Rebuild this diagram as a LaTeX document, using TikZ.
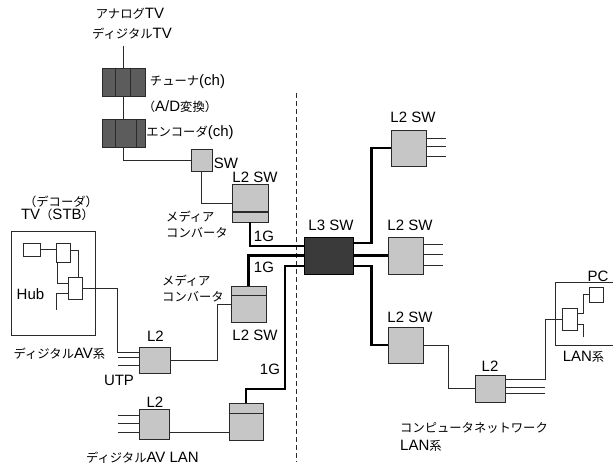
\documentclass[tikz,border=0pt]{standalone}
\usepackage{fontspec}
\setmainfont{Liberation Sans}
\newfontfamily\jpfont[Scale=0.82]{Noto Sans CJK JP}
\newcommand{\jp}[1]{{\jpfont #1}}
\usetikzlibrary{calc,positioning}
\definecolor{linegray}{HTML}{2A2A2A}
\definecolor{boxlight}{HTML}{C6C6C6}
\definecolor{boxdark}{HTML}{5C5C5C}
\definecolor{boxcore}{HTML}{3A3A3A}

\begin{document}
\begin{tikzpicture}[x=1pt, y=-1pt,
  font=\fontsize{15}{17}\selectfont,
  txt/.style={inner sep=0pt, text=black},
  lightbox/.style={rectangle, draw=linegray, fill=boxlight, line width=0.8pt, inner sep=0pt},
  darkbox/.style={rectangle, draw=linegray, fill=boxdark, line width=0.8pt, inner sep=0pt},
  corebox/.style={rectangle, draw=black, fill=boxcore, line width=0.8pt, inner sep=0pt},
  plainbox/.style={rectangle, draw=linegray, fill=white, line width=0.8pt, inner sep=0pt},
  wire/.style={draw=linegray, line width=0.9pt},
  trunk/.style={draw=black, line width=2.4pt},
]
\useasboundingbox (0,0) rectangle (613,468);

% broadcast side
\node[txt] (analog) at (130,14) {\jp{アナログ}TV};
\node[txt] (digital) at (132,34) {\jp{ディジタル}TV};
\node[darkbox, minimum width=43pt, minimum height=28pt] (tuner) at (123.5,82) {};
\node[darkbox, minimum width=43pt, minimum height=28pt] (enc) at (123.5,133) {};
\node[txt] (tunerlbl) at (187.5,82) {\jp{チューナ}(ch)};
\node[txt] (adlbl) at (180,107) {\jp{（}A/D\jp{変換）}};
\node[txt] (enclbl) at (190,133) {\jp{エンコーダ}(ch)};
\draw[wire] ([xshift=-8.5pt]tuner.north) -- ([xshift=-8.5pt]tuner.south);
\draw[wire] ([xshift=6.5pt]tuner.north) -- ([xshift=6.5pt]tuner.south);
\draw[wire] ([xshift=-8.5pt]enc.north) -- ([xshift=-8.5pt]enc.south);
\draw[wire] ([xshift=12.5pt]enc.north) -- ([xshift=12.5pt]enc.south);

\node[lightbox, minimum width=21pt, minimum height=22pt] (sw) at (201.5,160) {};
\node[txt] (swlbl) at (226,163) {SW};
\node[lightbox, minimum width=36pt, minimum height=38pt] (l2a) at (250,203) {};
\node[txt] (l2albl) at (255,177) {L2 SW};
\draw[draw=linegray, line width=2pt] ([yshift=-9pt]l2a.west) -- ([yshift=-9pt]l2a.east);
\node[txt, align=left, anchor=west] (mc1) at (166,224.5) {\jp{メディア}\\[-1pt]\jp{コンバータ}};

% core
\node[corebox, minimum width=49pt, minimum height=37pt] (l3) at (328.5,255.5) {};
\node[txt] (l3lbl) at (331,225) {L3 SW};
\draw[draw=linegray, dashed, dash pattern=on 5pt off 3pt, line width=0.7pt] (296,93) -- (296,462);

% AV LAN side
\node[lightbox, minimum width=35pt, minimum height=36pt] (mcb) at (248.5,304) {};
\draw[wire] ([yshift=9pt]mcb.west) -- ([yshift=9pt]mcb.east);
\node[txt] (mcblbl) at (255,335) {L2 SW};
\node[txt, align=left, anchor=west] (mc2) at (162,288.5) {\jp{メディア}\\[-1pt]\jp{コンバータ}};
\node[lightbox, minimum width=31pt, minimum height=26pt] (l2m) at (154.5,360) {};
\node[txt] (l2mlbl) at (155.5,336) {L2};
\node[txt] (utp) at (119,380) {UTP};
\node[lightbox, minimum width=30pt, minimum height=30pt] (l2b) at (154,424) {};
\node[txt] (l2blbl) at (155,402) {L2};
\node[lightbox, minimum width=34pt, minimum height=37pt] (mcc) at (246,421.5) {};
\draw[wire] ([yshift=8.5pt]mcc.west) -- ([yshift=8.5pt]mcc.east);
\node[txt] (g1) at (264,236) {1G};
\node[txt] (g2) at (264,267) {1G};
\node[txt] (g3) at (270,369) {1G};
\node[txt] (avlan) at (142.5,458) {\jp{ディジタル}AV LAN};

% set-top box
\draw[wire] (11,231) rectangle (95,335);
\node[txt] (dec) at (61,202) {\jp{（デコーダ）}};
\node[txt] (stb) at (57.5,215) {TV\jp{（}STB\jp{）}};
\node[plainbox, minimum width=17pt, minimum height=13pt] (h1) at (31.5,249.5) {};
\node[plainbox, minimum width=14pt, minimum height=19pt] (h2) at (63,252.5) {};
\node[plainbox, minimum width=14pt, minimum height=22pt] (h3) at (75,288) {};
\node[txt] (hub) at (30.5,294) {Hub};
\node[txt] (avsys) at (59.5,354) {\jp{ディジタル}AV\jp{系}};

% computer LAN side
\node[lightbox, minimum width=35pt, minimum height=36pt] (r1) at (408.5,148) {};
\node[txt] (r1lbl) at (413,117) {L2 SW};
\node[lightbox, minimum width=35pt, minimum height=37pt] (r2) at (405.5,255.5) {};
\node[txt] (r2lbl) at (410,225) {L2 SW};
\node[lightbox, minimum width=35pt, minimum height=36pt] (r3) at (405.5,345) {};
\node[txt] (r3lbl) at (410,317) {L2 SW};
\node[lightbox, minimum width=30pt, minimum height=27pt] (r4) at (490,388.5) {};
\node[txt] (r4lbl) at (490,366) {L2};
\draw[wire] (614,282) -- (555,282) -- (555,345) -- (614,345);
\node[plainbox, minimum width=15pt, minimum height=22pt] (lh) at (569.5,319) {};
\node[plainbox, minimum width=14pt, minimum height=15pt] (pc) at (596,294.5) {};
\node[txt] (pclbl) at (598,276) {PC};
\node[txt] (lansys) at (583.5,357) {LAN\jp{系}};
\node[txt, align=left, anchor=west] (cnet) at (400,437) {\jp{コンピュータネットワーク}\\[1pt]LAN\jp{系}};

% thin links
\draw[wire] (tuner.north |- digital.south) ++(0,6) -- (tuner.north);
\draw[wire] (tuner.south) -- (enc.north);
\draw[wire] (enc.south) |- (sw.west);
\draw[wire] (sw.south) |- (l2a.west);
\draw[wire] (mcb.west) -- ++(-13,0) |- (l2m.east);
\draw[wire] (h3.east) -- ++(35,0) |- ([yshift=8pt]l2m.west);
\draw[wire] ([yshift=3pt]l2m.west) -- ++(-21,0);
\draw[wire] ([yshift=-5pt]l2m.west) -- ++(-21,0);
\foreach \dy in {9,1,-8}
  \draw[wire] ([yshift=\dy pt]l2b.west) -- ++(-21,0);
\draw[wire] ([yshift=-8pt]l2b.east) -- ([yshift=-8pt]l2b.east -| mcc.west);
\draw[wire] (h1.east) -- (h1.east -| h2.west);
\draw[wire] ([yshift=2.5pt]h2.east) -| ([xshift=3pt]h3.north);
\draw[wire] ([xshift=-6pt]h2.south) |- ([yshift=5pt]h3.west);
\draw[wire] ([yshift=-5pt]h3.west) -- ++(-11,0) -- ++(0,17);
\foreach \dy in {10,2,-8}
  \draw[wire] ([yshift=\dy pt]r1.east) -- ++(20,0);
\foreach \dy in {11.5,1.5,-9.5}
  \draw[wire] ([yshift=\dy pt]r2.east) -- ++(20,0);
\draw[wire] (r3.east) -- ++(25,0) |- (r4.west);
\draw[wire] ([yshift=1.5pt]r4.east) -- ++(40,0);
\draw[wire] ([yshift=-4.5pt]r4.east) -- ++(40,0);
\draw[wire] ([yshift=9.5pt]r4.east) -- ++(40,0) |- (lh.west);
\draw[wire] ([yshift=6pt]lh.east) -- ++(6,0) |- (pc.west);
\draw[wire] ([yshift=-5pt]lh.east) -- ++(6,0) -- ++(0,13);

% 1G trunks
\coordinate (k1) at (285,389);
\draw[trunk] (l2a.south) |- ([yshift=9.5pt]l3.west);
\draw[trunk] (l3.west) -| (mcb.north);
\draw[trunk] ([yshift=-10.5pt]l3.west) -| (k1) -| (mcc.north);
\draw[trunk] ([yshift=12.5pt]l3.east) -- ++(18,0) |- (r1.west);
\draw[trunk] (l3.east) -- (r2.west);
\draw[trunk] ([yshift=-10.5pt]l3.east) -- ++(18,0) |- (r3.west);

\end{tikzpicture}
\end{document}
